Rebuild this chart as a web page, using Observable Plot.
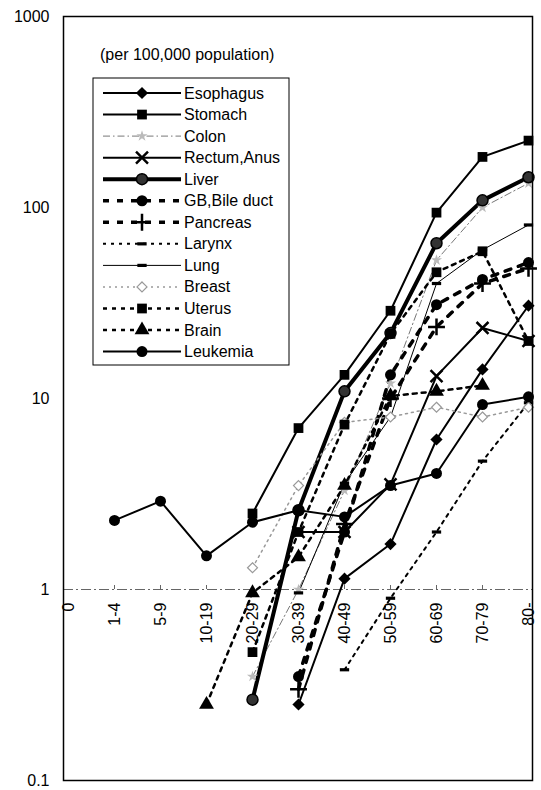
<!DOCTYPE html>
<html>
<head>
<meta charset="utf-8">
<script src="https://cdn.jsdelivr.net/npm/d3@7"></script>
<script src="https://cdn.jsdelivr.net/npm/@observablehq/plot@0.6"></script>
<style>
  html, body { margin: 0; padding: 0; background: white; }
  #wrap { position: relative; width: 541px; height: 790px; }
  #wrap svg { display: block; }
  #legend { position: absolute; left: 0; top: 0; pointer-events: none; }
</style>
</head>
<body>
<div id="wrap"></div>
<script>
// ---------- data ----------
const categories = ["0","1-4","5-9","10-19","20-29","30-39","40-49","50-59","60-69","70-79","80-"];
const yTicks = [0.1, 1, 10, 100, 1000];
const yTickLabels = ["0.1", "1", "10", "100", "1000"];
const axisCross = 1;
const unitNote = "(per 100,000 population)";
const seriesNames = ["Esophagus","Stomach","Colon","Rectum,Anus","Liver","GB,Bile duct","Pancreas","Larynx","Lung","Breast","Uterus","Brain","Leukemia"];

const esophagus = [null,null,null,null,null,0.25,1.14,1.73,6.1,14.2,30.6];
const stomach   = [null,null,null,null,2.5,7.0,13.3,28.8,94,184,224];
const colon     = [null,null,null,null,0.35,1.0,3.3,12,53,100,134];
const rectum    = [null,null,null,null,null,2.0,2.0,3.55,13.1,23.4,20];
const liver     = [null,null,null,null,0.265,2.6,10.9,22,65,109,144];
const gbBile    = [null,null,null,null,null,0.35,2.0,13.3,31,42,51.5];
const pancreas  = [null,null,null,null,null,0.3,2.2,10,23.7,40,48];
const larynx    = [null,null,null,null,null,null,0.38,0.9,2.0,4.7,9.5];
const lung      = [null,null,null,null,null,0.96,3.6,8,40,60,81];
const breast    = [null,null,null,null,1.3,3.5,7.5,8,9,8,9];
const uterus    = [null,null,null,null,0.47,2.0,7.3,21.8,45.8,59,20];
const brain     = [null,null,null,0.25,0.96,1.48,3.5,10.3,10.9,11.7,null];
const leukemia  = [null,2.3,2.9,1.5,2.25,2.6,2.4,3.5,4.05,9.3,10.2];

const seriesValues = [esophagus, stomach, colon, rectum, liver, gbBile, pancreas, larynx, lung, breast, uterus, brain, leukemia];

// ---------- styles ----------
const dashSymbol = {
  draw(context, size) {
    const w = Math.sqrt(size) * 1.5;
    context.moveTo(-w / 2, -1.6); context.lineTo(w / 2, -1.6);
    context.lineTo(w / 2, 1.6); context.lineTo(-w / 2, 1.6); context.closePath();
  }
};
const styles = [
  {stroke: "#000", sw: 2,   dash: null,       symbol: "diamond2", r: 5.5, fill: "#000", mstroke: "none", msw: 0},
  {stroke: "#000", sw: 2,   dash: null,       symbol: "square",   r: 5.5, fill: "#000", mstroke: "none", msw: 0},
  {stroke: "#777", sw: 1,   dash: "7,3,1.5,3", symbol: "star",    r: 3.5, fill: "#bbb", mstroke: "none", msw: 0},
  {stroke: "#000", sw: 2,   dash: null,       symbol: "times",    r: 5.5, fill: "none", mstroke: "#000", msw: 2.5},
  {stroke: "#000", sw: 4,   dash: null,       symbol: "circle",   r: 5.5, fill: "#333", mstroke: "#000", msw: 1.5},
  {stroke: "#000", sw: 3.5, dash: "6,8",      symbol: "circle",   r: 5.5, fill: "#000", mstroke: "none", msw: 0},
  {stroke: "#000", sw: 3.5, dash: "6,8",      symbol: "plus",     r: 5.5, fill: "none", mstroke: "#000", msw: 2.5},
  {stroke: "#000", sw: 2,   dash: "3,5",      symbol: dashSymbol, r: 3.5, fill: "#000", mstroke: "none", msw: 0},
  {stroke: "#000", sw: 1,   dash: null,       symbol: dashSymbol, r: 3.5, fill: "#000", mstroke: "none", msw: 0},
  {stroke: "#999", sw: 1.5, dash: "2,4",      symbol: "diamond2", r: 4.5, fill: "#fff", mstroke: "#999", msw: 1.2},
  {stroke: "#000", sw: 2.5, dash: "4,5",      symbol: "square",   r: 5.5, fill: "#000", mstroke: "none", msw: 0},
  {stroke: "#000", sw: 2.5, dash: "4,5",      symbol: "triangle", r: 5.5, fill: "#000", mstroke: "none", msw: 0},
  {stroke: "#000", sw: 2,   dash: null,       symbol: "circle",   r: 5.5, fill: "#000", mstroke: "none", msw: 0}
];

// ---------- marks ----------
const seriesMarks = [];
seriesNames.forEach((name, k) => {
  const rows = categories.map((c, i) => ({series: name, cat: c, v: seriesValues[k][i]})).filter(d => d.v != null);
  const s = styles[k];
  seriesMarks.push(Plot.line(rows, {x: "cat", y: "v", stroke: s.stroke, strokeWidth: s.sw, strokeDasharray: s.dash || undefined, strokeLinejoin: "round"}));
});
seriesNames.forEach((name, k) => {
  const rows = categories.map((c, i) => ({series: name, cat: c, v: seriesValues[k][i]})).filter(d => d.v != null);
  const s = styles[k];
  seriesMarks.push(Plot.dot(rows, {x: "cat", y: "v", symbol: s.symbol, r: s.r, fill: s.fill, stroke: s.mstroke, strokeWidth: s.msw}));
});

const chart = Plot.plot({
  width: 541,
  height: 790,
  marginLeft: 63,
  marginRight: 9,
  marginTop: 16,
  marginBottom: 10,
  style: {fontFamily: "'Liberation Sans', Arial, sans-serif", fontSize: "16px", background: "white", color: "black"},
  x: {type: "point", domain: categories, padding: 0, axis: null},
  y: {type: "log", domain: [0.1, 1000], axis: null},
  marks: [
    Plot.ruleY([axisCross], {stroke: "#666", strokeWidth: 1, strokeDasharray: "10,3,2,3"}),
    Plot.ruleX(categories.slice(1, -1), {x: d => d, y1: () => axisCross, y2: () => axisCross, insetTop: -4, stroke: "#666", strokeWidth: 1}),
    Plot.axisY({ticks: yTicks, tickFormat: d => yTickLabels[yTicks.indexOf(d)], tickSize: 0, tickPadding: 14, label: null, fontSize: 16}),
    Plot.text(categories, {x: d => d, y: () => axisCross, text: d => d, rotate: -90, textAnchor: "end", lineAnchor: "middle", dy: 13, fontSize: 16, fill: "#000"}),
    ...seriesMarks,
    Plot.frame({stroke: "#000", strokeWidth: 1.5})
  ]
});
const wrap = document.getElementById("wrap");
wrap.appendChild(chart);

// ---------- legend overlay ----------
const symMap = {diamond2: d3.symbolDiamond2, square: d3.symbolSquare, star: d3.symbolStar, times: d3.symbolTimes,
  circle: d3.symbolCircle, plus: d3.symbolPlus, triangle: d3.symbolTriangle};
const lg = d3.select(wrap).append("svg").attr("id", "legend").attr("width", 541).attr("height", 790)
  .style("font-family", "'Liberation Sans', Arial, sans-serif").style("font-size", "16px");
lg.append("text").attr("x", 100).attr("y", 54).attr("dominant-baseline", "central").attr("fill", "#000").text(unitNote);
lg.append("rect").attr("x", 93).attr("y", 78).attr("width", 196).attr("height", 287)
  .attr("fill", "#fff").attr("stroke", "#000").attr("stroke-width", 1);
seriesNames.forEach((name, k) => {
  const s = styles[k];
  const cy = 93 + k * 21.55;
  const g = lg.append("g").attr("transform", `translate(0,${cy})`);
  g.append("line").attr("x1", 103).attr("x2", 181).attr("y1", 0).attr("y2", 0)
    .attr("stroke", s.stroke).attr("stroke-width", s.sw).attr("stroke-dasharray", s.dash);
  const type = typeof s.symbol === "string" ? symMap[s.symbol] : s.symbol;
  g.append("path").attr("transform", "translate(142,0)")
    .attr("d", d3.symbol(type, Math.PI * s.r * s.r)())
    .attr("fill", s.fill).attr("stroke", s.mstroke).attr("stroke-width", s.msw);
  g.append("text").attr("x", 184).attr("y", 0).attr("dominant-baseline", "central").attr("fill", "#000").text(name);
});
</script>
</body>
</html>
